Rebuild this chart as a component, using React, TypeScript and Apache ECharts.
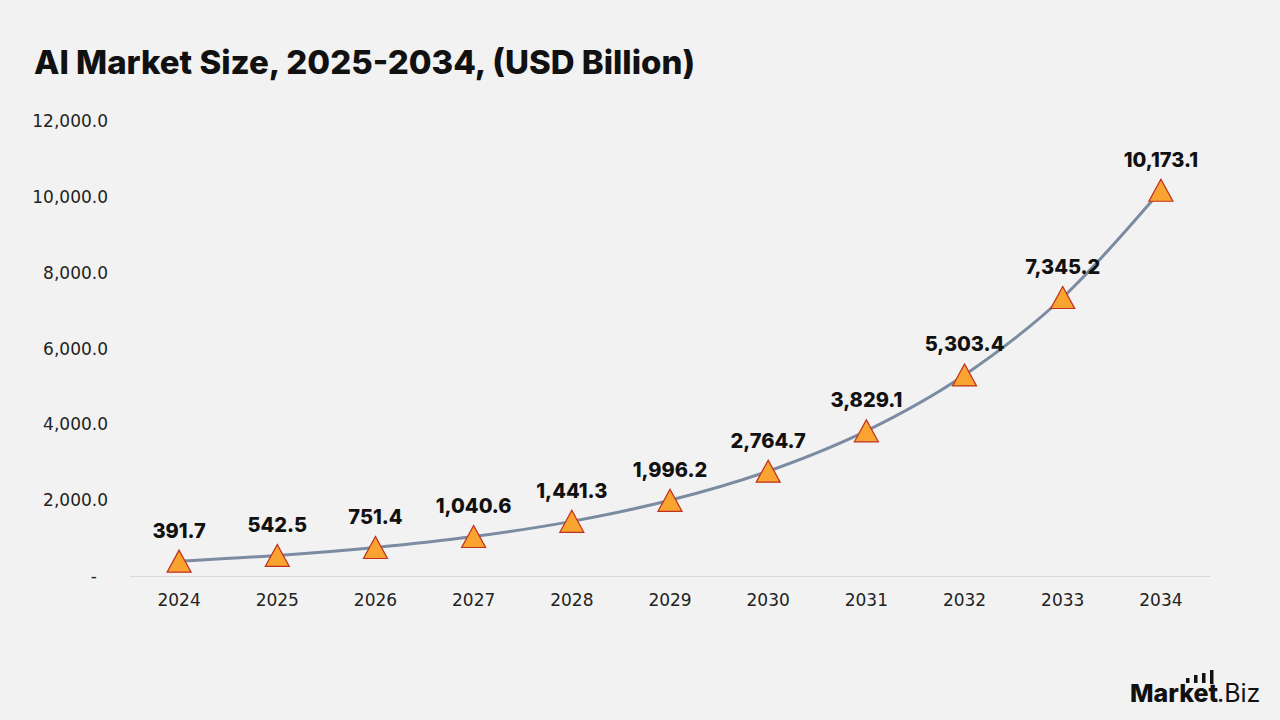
import React, { useEffect, useRef } from "react";
import * as echarts from "echarts";

const years = ["2024", "2025", "2026", "2027", "2028", "2029", "2030", "2031", "2032", "2033", "2034"];
const marketSize = [391.7, 542.5, 751.4, 1040.6, 1441.3, 1996.2, 2764.7, 3829.1, 5303.4, 7345.2, 10173.1];
const titleText = "AI Market Size, 2025-2034, (USD Billion)";

const fmt = (v: number) =>
  v.toLocaleString("en-US", { minimumFractionDigits: 1, maximumFractionDigits: 1 });

export default function App() {
  const ref = useRef<HTMLDivElement>(null);
  useEffect(() => {
    const chart = echarts.init(ref.current!, null, { renderer: "svg" });
    chart.setOption({
      animation: false,
      backgroundColor: "#f2f2f2",
      title: {
        text: titleText,
        left: 29,
        top: 40,
        textStyle: { fontFamily: "Inter", fontWeight: 800, fontSize: 33, color: "#111" },
      },
      grid: { left: 130, right: 70, top: 121, bottom: 144 },
      xAxis: {
        type: "category",
        data: years,
        boundaryGap: true,
        axisLine: { lineStyle: { color: "#d9d9d9", width: 1 } },
        axisTick: { show: false },
        axisLabel: { color: "#222", fontSize: 17, fontFamily: "DejaVu Sans", margin: 15 },
      },
      yAxis: {
        type: "value",
        min: 0,
        max: 12000,
        interval: 2000,
        splitLine: { show: false },
        axisLine: { show: false },
        axisTick: { show: false },
        axisLabel: {
          color: "#222",
          fontSize: 17,
          fontFamily: "DejaVu Sans",
          margin: 22,
          formatter: (v: number) => (v === 0 ? "{d|-}" : fmt(v)),
          rich: { d: { fontSize: 17, fontFamily: "DejaVu Sans", color: "#222", padding: [0, 11, 0, 0] } },
        },
      },
      series: [
        {
          type: "line",
          data: marketSize,
          smooth: 0.35,
          lineStyle: { color: "#7b8ba1", width: 3 },
          symbol: "triangle",
          symbolSize: [24, 22],
          itemStyle: { color: "#f9a330", borderColor: "#c0301e", borderWidth: 1.2 },
          label: {
            show: true,
            position: "top",
            distance: 9,
            fontFamily: "Inter",
            fontWeight: 800,
            fontSize: 20,
            color: "#111",
            formatter: (p: any) => fmt(p.value),
          },
        },
      ],
      graphic: [
        {
          type: "text",
          x: 1130,
          y: 693,
          style: {
            text: "Market",
            fontFamily: "Inter",
            fontWeight: 800,
            fontSize: 25,
            fill: "#111",
            verticalAlign: "middle",
          },
        },
        {
          type: "text",
          x: 1217,
          y: 693,
          style: {
            text: ".Biz",
            fontFamily: "Inter",
            fontWeight: "normal",
            fontSize: 25,
            fill: "#111",
            verticalAlign: "middle",
          },
        },
        { type: "rect", shape: { x: 1186, y: 678, width: 3.5, height: 5 }, style: { fill: "#111" } },
        { type: "rect", shape: { x: 1194, y: 675, width: 3.5, height: 8 }, style: { fill: "#111" } },
        { type: "rect", shape: { x: 1202, y: 673, width: 3.5, height: 10 }, style: { fill: "#111" } },
        { type: "rect", shape: { x: 1210, y: 670, width: 3.5, height: 14 }, style: { fill: "#111" } },
      ],
    });
    return () => chart.dispose();
  }, []);
  return <div ref={ref} style={{ width: 1280, height: 720, position: "fixed", left: 0, top: 0 }} />;
}
